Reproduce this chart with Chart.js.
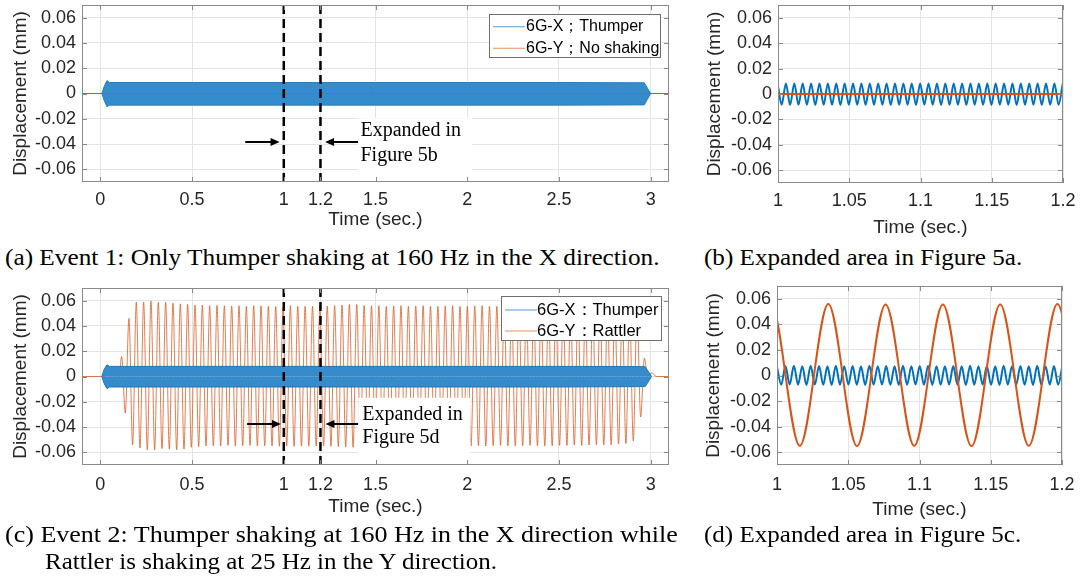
<!DOCTYPE html>
<html>
<head>
<meta charset="utf-8">
<script src="https://cdn.jsdelivr.net/npm/chart.js@4.4.1/dist/chart.umd.min.js"></script>
<style>
body { margin: 0; background: #fff; width: 1080px; height: 579px; position: relative; overflow: hidden; }
.panel { position: absolute; }
.cap { position: absolute; font-family: "Liberation Serif", "Times New Roman", serif; font-size: 23px; color: #000; white-space: nowrap; line-height: 1; transform-origin: 0 50%; }
</style>
</head>
<body>
<div class="panel" style="left:0;top:0;width:680px;height:240px"><canvas id="chartA"></canvas></div>
<div class="panel" style="left:690px;top:0;width:390px;height:245px"><canvas id="chartB"></canvas></div>
<div class="panel" style="left:0;top:280px;width:680px;height:250px"><canvas id="chartC"></canvas></div>
<div class="panel" style="left:690px;top:280px;width:390px;height:250px"><canvas id="chartD"></canvas></div>

<div class="cap" data-w="655" style="left:5px;top:246px">(a) Event 1: Only Thumper shaking at 160 Hz in the X direction.</div>
<div class="cap" data-w="318" style="left:704px;top:246px">(b) Expanded area in Figure 5a.</div>
<div class="cap" data-w="673" style="left:5px;top:523px">(c) Event 2: Thumper shaking at 160 Hz in the X direction while</div>
<div class="cap" data-w="452" style="left:45px;top:550px">Rattler is shaking at 25 Hz in the Y direction.</div>
<div class="cap" data-w="317" style="left:704px;top:523px">(d) Expanded area in Figure 5c.</div>

<script>
// axis ticks
const xTicksWide = [0, 0.5, 1, 1.2, 1.5, 2, 2.5, 3];
const xTicksZoom = [1, 1.05, 1.1, 1.15, 1.2];
const yTicks = [-0.06, -0.04, -0.02, 0, 0.02, 0.04, 0.06];

const legendA = ['6G-X；Thumper', '6G-Y；No shaking'];
const legendC = ['6G-X：Thumper', '6G-Y：Rattler'];
const noteA = ['Expanded in', 'Figure 5b'];
const noteC = ['Expanded in', 'Figure 5d'];

// Thumper band (160 Hz, too dense to resolve in the full views): envelope
const envTimeA = [0.008, 0.022, 0.036, 0.05, 0.5, 1, 1.5, 2, 2.5, 2.965, 3.0];
const envUpA   = [0, 0.006, 0.0102, 0.0087, 0.0087, 0.0087, 0.0087, 0.0087, 0.0087, 0.0085, 0];
const envLowA  = [0, -0.006, -0.0105, -0.0092, -0.0092, -0.0092, -0.0092, -0.0092, -0.0092, -0.009, 0];

const envTimeC = [0.008, 0.022, 0.036, 0.05, 0.5, 1, 1.5, 2, 2.5, 2.97, 3.005];
const envUpC   = [0, 0.006, 0.0092, 0.008, 0.008, 0.008, 0.008, 0.008, 0.008, 0.0078, 0];
const envLowC  = [0, -0.006, -0.0096, -0.0083, -0.0083, -0.0083, -0.0083, -0.0083, -0.0083, -0.008, 0];

// 6G-Y with no shaking
const flatTime = [-0.1, 3.1];
const flatY = [0, 0];

// Rattler (25 Hz): lead-in, then alternating peaks / troughs, then tail
const rattlerLeadT = [-0.1, 0.02, 0.045, 0.065, 0.085, 0.1];
const rattlerLeadY = [0, 0, 0.002, -0.003, 0.002, -0.004];
const rattlerT0 = 0.116;
const rattlerHalf1 = 0.02;    // half period up to the split
const rattlerSplit = 46;
const rattlerHalf2 = 0.0201;  // half period after it
const rattlerPeaks = [
  0.0158, 0.046, 0.0588, 0.0588, 0.0598, 0.0588, 0.0588, 0.058, 0.0575, 0.057,
  0.0565, 0.0565, 0.056, 0.0562, 0.056, 0.0558, 0.056, 0.0555, 0.056, 0.0558,
  0.0555, 0.0555, 0.055, 0.056, 0.0555, 0.0555, 0.0555, 0.056, 0.0558, 0.056,
  0.0565, 0.057, 0.057, 0.0562, 0.056, 0.056, 0.0555, 0.0558, 0.056, 0.0555,
  0.0558, 0.056, 0.0555, 0.0555, 0.0558, 0.056, 0.0555, 0.0555, 0.0558, 0.056,
  0.0555, 0.0555, 0.0552, 0.0555, 0.0555, 0.0552, 0.055, 0.0555, 0.0552, 0.055,
  0.0552, 0.055, 0.055, 0.0548, 0.055, 0.0548, 0.0545, 0.0545, 0.054, 0.054,
  0.053, 0.0145, 0.003
];
const rattlerTroughs = [
  -0.029, -0.054, -0.0566, -0.058, -0.058, -0.057, -0.0575, -0.058, -0.0575, -0.056,
  -0.0555, -0.055, -0.0548, -0.055, -0.0545, -0.055, -0.0548, -0.0545, -0.055, -0.0548,
  -0.055, -0.0552, -0.055, -0.0552, -0.055, -0.0552, -0.055, -0.0548, -0.0552, -0.0555,
  -0.0558, -0.056, -0.0558, -0.0555, -0.0552, -0.0555, -0.0558, -0.0555, -0.0552, -0.0555,
  -0.0552, -0.055, -0.0552, -0.055, -0.0548, -0.055, -0.0552, -0.055, -0.0548, -0.055,
  -0.0548, -0.0545, -0.0548, -0.055, -0.0548, -0.0545, -0.0548, -0.055, -0.0548, -0.0545,
  -0.0545, -0.0542, -0.0545, -0.0542, -0.054, -0.0542, -0.054, -0.0535, -0.053, -0.051,
  -0.032, -0.003
];
const rattlerTailT = [3.03, 3.1];
const rattlerTailY = [0, 0];

// Thumper in the expanded views: value at t = 1, then troughs / peaks alternating
const thumperHalf = 0.002944;
const thumperT0B = 1.0026;
const thumperB = [0.006,
  -0.0085, 0.0082, -0.0086, 0.0083, -0.0085, 0.0082, -0.0085, 0.0083, -0.0086, 0.0082,
  -0.0085, 0.0083, -0.0085, 0.0082, -0.0086, 0.0083, -0.0085, 0.0082, -0.0085, 0.0083,
  -0.0086, 0.0082, -0.0085, 0.0083, -0.0085, 0.0082, -0.0086, 0.0083, -0.0085, 0.0082,
  -0.0085, 0.0083, -0.0086, 0.0082, -0.0085, 0.0083, -0.0085, 0.0082, -0.0086, 0.0083,
  -0.0085, 0.0082, -0.0085, 0.0083, -0.0086, 0.0082, -0.0085, 0.0083, -0.0085, 0.0082,
  -0.0086, 0.0083, -0.0085, 0.0082, -0.0085, 0.0083, -0.0086, 0.0082, -0.0085, 0.0083,
  -0.0085, 0.0082, -0.0086, 0.0083, -0.0085, 0.0082, -0.0085, 0.0083
];
const thumperT0D = 1.003;
const thumperD = [0.0065,
  -0.0072, 0.0074, -0.0071, 0.0076, -0.0072, 0.0073, -0.0074, 0.0077, -0.0071, 0.0074,
  -0.0073, 0.0072, -0.0075, 0.0076, -0.0072, 0.0073, -0.0071, 0.0074, -0.0073, 0.0072,
  -0.0074, 0.0077, -0.0072, 0.0073, -0.0071, 0.0074, -0.0073, 0.0072, -0.0075, 0.0076,
  -0.0072, 0.0073, -0.0071, 0.0074, -0.0073, 0.0077, -0.0074, 0.0072, -0.0072, 0.0073,
  -0.0071, 0.0074, -0.0073, 0.0072, -0.0075, 0.0076, -0.0072, 0.0073, -0.0071, 0.0074,
  -0.0073, 0.0072, -0.0074, 0.0077, -0.0072, 0.0073, -0.0071, 0.0074, -0.0073, 0.0072,
  -0.0075, 0.0076, -0.0072, 0.0073, -0.0071, 0.0074, -0.0073, 0.0074
];

const BLUE = '#0072BD';
const ORANGE = '#D95319';

Chart.defaults.font.family = '"Liberation Sans", Arial, sans-serif';
Chart.defaults.color = '#262626';

// captions are a little wider than Liberation Serif: stretch to the measured width
document.querySelectorAll('.cap').forEach(el => {
  el.style.transform = 'scaleX(' + (+el.dataset.w / el.offsetWidth).toFixed(4) + ')';
});

function pairs(ts, ys) {
  return ts.map((t, i) => ({ x: t, y: ys[i] }));
}

function rattlerPoints() {
  const pts = pairs(rattlerLeadT, rattlerLeadY);
  const n = rattlerPeaks.length + rattlerTroughs.length;
  for (let i = 0; i < n; i++) {
    const t = i <= rattlerSplit
      ? rattlerT0 + i * rattlerHalf1
      : rattlerT0 + rattlerSplit * rattlerHalf1 + (i - rattlerSplit) * rattlerHalf2;
    const v = i % 2 === 0 ? rattlerPeaks[i / 2] : rattlerTroughs[(i - 1) / 2];
    pts.push({ x: +t.toFixed(4), y: v });
  }
  return pts.concat(pairs(rattlerTailT, rattlerTailY));
}

function thumperPoints(t0, vals) {
  const pts = [{ x: 1, y: vals[0] }];
  for (let k = 1; k < vals.length; k++) {
    pts.push({ x: +(t0 + (k - 1) * thumperHalf).toFixed(5), y: vals[k] });
  }
  return pts;
}

// box, inner ticks, legend, notes, dashed markers and arrows (MATLAB look)
const frame = {
  id: 'frame',
  afterDatasetsDraw(chart, args, o) {
    const { ctx, chartArea: a, scales: { x, y } } = chart;
    ctx.save();
    if (o.note) {
      const n = o.note;
      const l = x.getPixelForValue(n.box[0]), r = x.getPixelForValue(n.box[1]);
      const t = y.getPixelForValue(n.box[2]);
      ctx.fillStyle = '#fff';
      ctx.fillRect(l, t, r - l, a.bottom - t);
      ctx.fillStyle = '#000';
      ctx.font = '20px "Liberation Serif", "Times New Roman", serif';
      ctx.textBaseline = 'alphabetic';
      n.text.forEach((s, i) => ctx.fillText(s, x.getPixelForValue(n.at[0]), y.getPixelForValue(n.at[i + 1])));
    }
    (o.marks || []).forEach(v => {
      const px = x.getPixelForValue(v);
      ctx.strokeStyle = '#000';
      ctx.lineWidth = 2.5;
      ctx.setLineDash([9, 5]);
      ctx.beginPath();
      ctx.moveTo(px, a.top);
      ctx.lineTo(px, a.bottom);
      ctx.stroke();
    });
    ctx.setLineDash([]);
    (o.arrows || []).forEach(([x0, x1, yv]) => {
      const p0 = x.getPixelForValue(x0), p1 = x.getPixelForValue(x1), py = Math.round(y.getPixelForValue(yv));
      const dir = Math.sign(p1 - p0);
      ctx.strokeStyle = '#000';
      ctx.fillStyle = '#000';
      ctx.lineWidth = 2;
      ctx.beginPath();
      ctx.moveTo(p0, py);
      ctx.lineTo(p1 - dir * 7, py);
      ctx.stroke();
      ctx.beginPath();
      ctx.moveTo(p1, py);
      ctx.lineTo(p1 - dir * 9, py - 4);
      ctx.lineTo(p1 - dir * 9, py + 4);
      ctx.closePath();
      ctx.fill();
    });
    if (o.legend) {
      const L = o.legend;
      const bx = Math.round(a.right - L.right - L.w), by = Math.round(a.top + L.top);
      ctx.fillStyle = '#fff';
      ctx.fillRect(bx, by, L.w, L.h);
      ctx.strokeStyle = '#707070';
      ctx.lineWidth = 1;
      ctx.strokeRect(bx + 0.5, by + 0.5, L.w - 1, L.h - 1);
      ctx.font = L.font;
      ctx.textBaseline = 'middle';
      L.text.forEach((s, i) => {
        const cy = by + L.rows[i];
        ctx.strokeStyle = L.colors[i];
        ctx.lineWidth = 1.2;
        ctx.beginPath();
        ctx.moveTo(bx + 4, cy);
        ctx.lineTo(bx + 36, cy);
        ctx.stroke();
        ctx.fillStyle = '#000';
        ctx.fillText(s, bx + L.tx, cy);
      });
    }
    ctx.strokeStyle = '#8a8a8a';
    ctx.lineWidth = 1;
    ctx.strokeRect(a.left + 0.5, a.top + 0.5, a.width - 1, a.height - 1);
    ctx.beginPath();
    x.ticks.forEach(t => {
      const p = Math.round(x.getPixelForValue(t.value)) + 0.5;
      ctx.moveTo(p, a.bottom); ctx.lineTo(p, a.bottom - 5);
      ctx.moveTo(p, a.top); ctx.lineTo(p, a.top + 5);
    });
    y.ticks.forEach(t => {
      const p = Math.round(y.getPixelForValue(t.value)) + 0.5;
      ctx.moveTo(a.left, p); ctx.lineTo(a.left + 5, p);
      ctx.moveTo(a.right, p); ctx.lineTo(a.right - 5, p);
    });
    ctx.stroke();
    ctx.restore();
  }
};

function panel(id, datasets, xr, xTicks, L, extras) {
  return new Chart(document.getElementById(id), {
    type: 'line',
    data: { datasets },
    options: {
      responsive: true,
      maintainAspectRatio: false,
      animation: false,
      parsing: false,
      layout: { padding: { left: 0, top: L.top, right: L.right, bottom: 0 } },
      elements: { point: { radius: 0 } },
      plugins: { legend: { display: false }, tooltip: { enabled: false }, frame: extras },
      scales: {
        x: {
          type: 'linear', min: xr[0], max: xr[1],
          afterBuildTicks: s => { s.ticks = xTicks.map(v => ({ value: v })); },
          afterFit: s => { s.height = L.xh; s.paddingLeft = 0; s.paddingRight = 0; },
          ticks: { autoSkip: false, maxRotation: 0, padding: L.xpad, font: { size: 18 }, callback: v => String(v) },
          grid: { color: '#e4e4e4', drawTicks: false },
          border: { display: false },
          title: { display: true, text: 'Time (sec.)', font: { size: 19 }, padding: { top: 0, bottom: L.xtb } }
        },
        y: {
          min: -0.07, max: 0.07,
          afterBuildTicks: s => { s.ticks = yTicks.map(v => ({ value: v })); },
          afterFit: s => { s.width = L.yw; s.paddingTop = 0; s.paddingBottom = 0; },
          ticks: { padding: 6, font: { size: 18 }, callback: v => (v === 0 ? '0' : v.toFixed(2)) },
          grid: { color: '#e4e4e4', drawTicks: false },
          border: { display: false },
          title: { display: true, text: 'Displacement (mm)', font: { size: 19 }, padding: { top: L.ytp, bottom: 0 } }
        }
      }
    },
    plugins: [frame]
  });
}

const line = (label, data, color, width, extra) => Object.assign({
  label, data, borderColor: color, borderWidth: width, pointRadius: 0, fill: false, tension: 0
}, extra || {});

// (a)
panel('chartA', [
  line(legendA[1], pairs(flatTime, flatY), ORANGE, 1),
  line(legendA[0], pairs(envTimeA, envUpA), '#2a7fc1', 1, { fill: 'origin', backgroundColor: '#358ccc' }),
  line(legendA[0], pairs(envTimeA, envLowA), '#2a7fc1', 1, { fill: 'origin', backgroundColor: '#358ccc' })
], [-0.1, 3.1], xTicksWide,
  { top: 5, right: 11, yw: 82, xh: 58, xpad: 7, xtb: 8.5, ytp: 9.6 },
  {
    marks: [1, 1.2],
    arrows: [[0.79, 0.977, -0.038], [1.405, 1.225, -0.038]],
    note: { box: [1.407, 2.025, -0.0195], at: [1.418, -0.0335, -0.0532], text: noteA },
    legend: { right: 8, top: 9, w: 172, h: 44, rows: [12.7, 34.3], tx: 37, font: '16px "Liberation Sans", Arial, sans-serif', text: legendA, colors: ['#6fb0e0', '#f0a07a'] }
  });

// (b)
panel('chartB', [
  line(legendA[1], pairs(flatTime, flatY), ORANGE, 2),
  line(legendA[0], thumperPoints(thumperT0B, thumperB), BLUE, 2, { cubicInterpolationMode: 'monotone' })
], [1, 1.2], xTicksZoom,
  { top: 5, right: 17, yw: 88, xh: 62, xpad: 7, xtb: 5.9, ytp: 13.6 },
  {});

// (c)
panel('chartC', [
  line(legendC[0], pairs(envTimeC, envUpC), '#1f74b8', 1, { fill: 'origin', backgroundColor: '#358ccc' }),
  line(legendC[0], pairs(envTimeC, envLowC), '#1f74b8', 1, { fill: 'origin', backgroundColor: '#358ccc' }),
  line(legendC[1], rattlerPoints(), 'rgba(217,83,25,0.75)', 1, { cubicInterpolationMode: 'monotone' })
], [-0.1, 3.1], xTicksWide,
  { top: 8, right: 11, yw: 82, xh: 65, xpad: 9, xtb: 11.6, ytp: 9.6 },
  {
    marks: [1, 1.2],
    arrows: [[0.8, 0.985, -0.0374], [1.405, 1.227, -0.0374]],
    note: { box: [1.407, 2.018, -0.0168], at: [1.428, -0.0342, -0.0527], text: noteC },
    legend: { right: 7.3, top: 8, w: 161, h: 45, rows: [14, 35], tx: 36, font: '16.5px "Liberation Sans", Arial, sans-serif', text: legendC, colors: ['#6fb0e0', '#f0a07a'] }
  });

// (d)
panel('chartD', [
  line(legendC[1], rattlerPoints(), ORANGE, 2, { cubicInterpolationMode: 'monotone' }),
  line(legendC[0], thumperPoints(thumperT0D, thumperD), BLUE, 2, { cubicInterpolationMode: 'monotone' })
], [1, 1.2], xTicksZoom,
  { top: 6, right: 18, yw: 87, xh: 65, xpad: 9, xtb: 8.6, ytp: 12 },
  {});
</script>
</body>
</html>
